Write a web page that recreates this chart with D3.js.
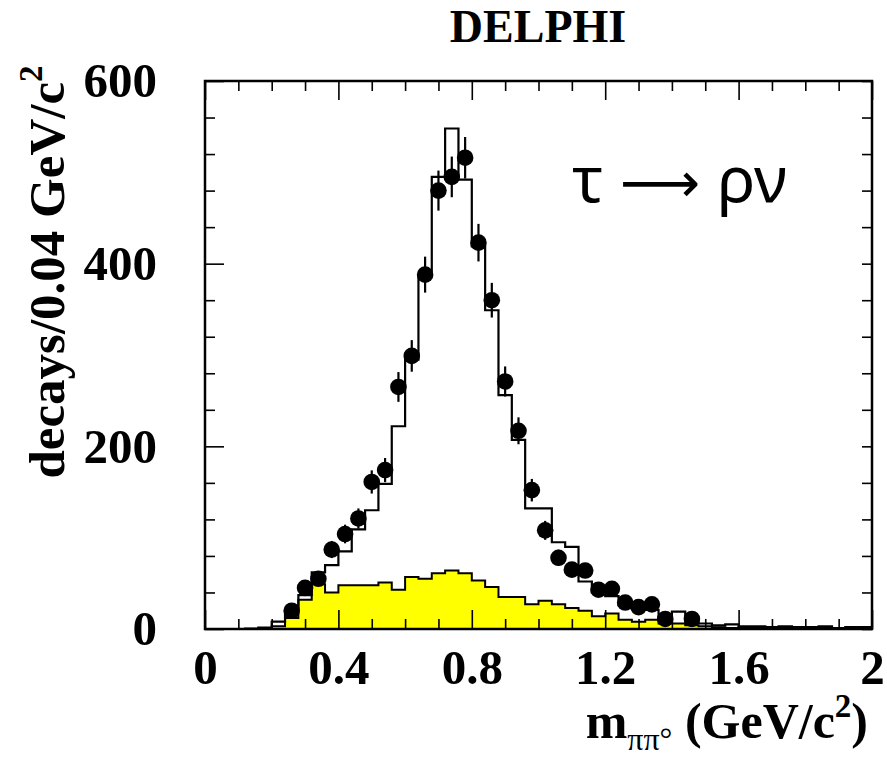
<!DOCTYPE html>
<html><head><meta charset="utf-8">
<script src="https://cdn.jsdelivr.net/npm/d3@7/dist/d3.min.js"></script>
<style>body{margin:0;background:#fff}</style>
</head><body>
<svg id="c" width="887" height="757"></svg>
<script>
// ---- data ----
const binWidth = 0.04;
const binStarts = d3.range(50).map(i => +(i * 0.04).toFixed(2));
// simulation (white histogram)
const mcValues = [0,0,0,0.5,1.5,8,21,37,62,70,85,109,130,159,222,295,388,495,548,492,419,349,256,207,132,132,95,90,52,40,36,26,22,21,10,19,8,6,4,5,3,3,2,3,2,2,3,1,2,2];
// background (yellow)
const bkgValues = [0,0,0,0,0.5,3,12,32,49,40,48,48,48,51,43,57,55,61,64,61,53,46,35,35,27,31,27,23,20,14,17,10,8,10,6,6,4,3,2,1,2,1,1,1,2,1,1,1,1,1];
// data points (bin centres)
const dataCenters = [0.26,0.30,0.34,0.38,0.42,0.46,0.50,0.54,0.58,0.62,0.66,0.70,0.74,0.78,0.82,0.86,0.90,0.94,0.98,1.02,1.06,1.10,1.14,1.18,1.22,1.26,1.30,1.34,1.38,1.46];
const dataValues  = [20,45,55,87,104,121,161,174,265,299,388,480,495,516,423,360,271,217,152,108,78,65,64,43,44,29,24,27,11,11];
const xTickLabels = ["0","0.4","0.8","1.2","1.6","2"];
const xMajor = [0,0.4,0.8,1.2,1.6,2];
const yMajor = [0,200,400,600];

// ---- layout ----
const L = 205, R = 872, T = 81, B = 629;
const svg = d3.select("#c");
const x = d3.scaleLinear().domain([0,2]).range([L,R]);
const y = d3.scaleLinear().domain([0,600]).range([B,T]);

function stepPts(vals){
  const pts = [];
  vals.forEach((v,i)=>{ pts.push([binStarts[i], v]); pts.push([binStarts[i]+binWidth, v]); });
  return pts;
}

// yellow background
const area = d3.area().x(d=>x(d[0])).y0(y(0)).y1(d=>y(d[1]));
svg.append("path").datum(stepPts(bkgValues)).attr("d", area)
  .attr("fill","#ffff00").attr("stroke","#000").attr("stroke-width",2).attr("stroke-linejoin","miter");

// MC histogram line
const line = d3.line().x(d=>x(d[0])).y(d=>y(d[1]));
svg.append("path").datum(stepPts(mcValues)).attr("d", line)
  .attr("fill","none").attr("stroke","#000").attr("stroke-width",2.2);

// data points
const pts = dataCenters.map((c,i)=>({c, v:dataValues[i]}));
svg.append("g").selectAll("line").data(pts).join("line")
  .attr("x1",d=>x(d.c)).attr("x2",d=>x(d.c))
  .attr("y1",d=>y(d.v+Math.sqrt(d.v))).attr("y2",d=>y(Math.max(0,d.v-Math.sqrt(d.v))))
  .attr("stroke","#000").attr("stroke-width",2.2);
svg.append("g").selectAll("circle").data(pts).join("circle")
  .attr("cx",d=>x(d.c)).attr("cy",d=>y(d.v)).attr("r",8.3).attr("fill","#000");

// ---- axes / ticks ----
const xMinor = d3.range(0,2.0001,0.1).map(v=>+v.toFixed(2)).filter(v=>!xMajor.some(m=>Math.abs(m-v)<1e-6));
const yMinor = d3.range(0,600.1,40).filter(v=>v%200!==0);
function tickAxis(axisFn, scale, vals, size, tx, ty){
  const g = svg.append("g").attr("transform",`translate(${tx},${ty})`)
    .call(axisFn(scale).tickValues(vals).tickSize(size).tickFormat(""));
  g.select(".domain").remove();
  g.selectAll(".tick line").attr("stroke","#000").attr("stroke-width",1.6);
  return g;
}
tickAxis(d3.axisBottom, x, xMajor, -19, 0, B);
tickAxis(d3.axisBottom, x, xMinor, -10, 0, B);
tickAxis(d3.axisTop, x, xMajor, -19, 0, T);
tickAxis(d3.axisTop, x, xMinor, -10, 0, T);
tickAxis(d3.axisLeft, y, yMajor, -19, L, 0);
tickAxis(d3.axisLeft, y, yMinor, -10, L, 0);
tickAxis(d3.axisRight, y, yMajor.concat(yMinor), -10, R, 0);

// tick labels
const labFont = "'Liberation Serif','Times New Roman',serif";
const gx = svg.append("g").attr("transform",`translate(0,${B})`)
  .call(d3.axisBottom(x).tickValues(xMajor).tickSize(0).tickPadding(20).tickFormat((d,i)=>xTickLabels[i]));
gx.select(".domain").remove();
gx.selectAll("text").attr("font-family",labFont).attr("font-weight","bold").attr("font-size",49).attr("fill","#000");
const gy = svg.append("g").attr("transform",`translate(${L},0)`)
  .call(d3.axisLeft(y).tickValues(yMajor).tickSize(0).tickPadding(48).tickFormat(d3.format("d")));
gy.select(".domain").remove();
gy.selectAll("text").attr("font-family",labFont).attr("font-weight","bold").attr("font-size",49).attr("fill","#000");

// frame
svg.append("rect").attr("x",L).attr("y",T).attr("width",R-L).attr("height",B-T)
  .attr("fill","none").attr("stroke","#000").attr("stroke-width",2.5);

// title
svg.append("text").attr("x",538).attr("y",42).attr("text-anchor","middle")
  .attr("font-family",labFont).attr("font-weight","bold").attr("font-size",46).text("DELPHI");

// reaction label
const rl = svg.append("text").attr("x",572).attr("y",202)
  .attr("font-family","'Noto Sans','DejaVu Sans',sans-serif").attr("font-size",64);
rl.append("tspan").text("τ ");
rl.append("tspan").attr("font-family","'DejaVu Sans',sans-serif").attr("font-size",56).text("⟶");
rl.append("tspan").text(" ρν");

// y title
const yt = svg.append("text").attr("transform","translate(64,272) rotate(-90)")
  .attr("text-anchor","middle").attr("font-family",labFont).attr("font-weight","bold").attr("font-size",51);
yt.append("tspan").text("decays/0.04 GeV/c");
yt.append("tspan").attr("dy",-22).attr("font-size",33).text("2");

// x title
const xt = svg.append("text").attr("x",868).attr("y",738).attr("text-anchor","end")
  .attr("font-family",labFont).attr("font-weight","bold").attr("font-size",50);
xt.append("tspan").text("m");
xt.append("tspan").attr("dy",12).attr("font-size",32).attr("font-weight","normal").text("ππ°");
xt.append("tspan").attr("dy",-12).text(" (GeV/c");
xt.append("tspan").attr("dy",-21).attr("font-size",33).text("2");
xt.append("tspan").attr("dy",21).text(")");
</script>
</body></html>
